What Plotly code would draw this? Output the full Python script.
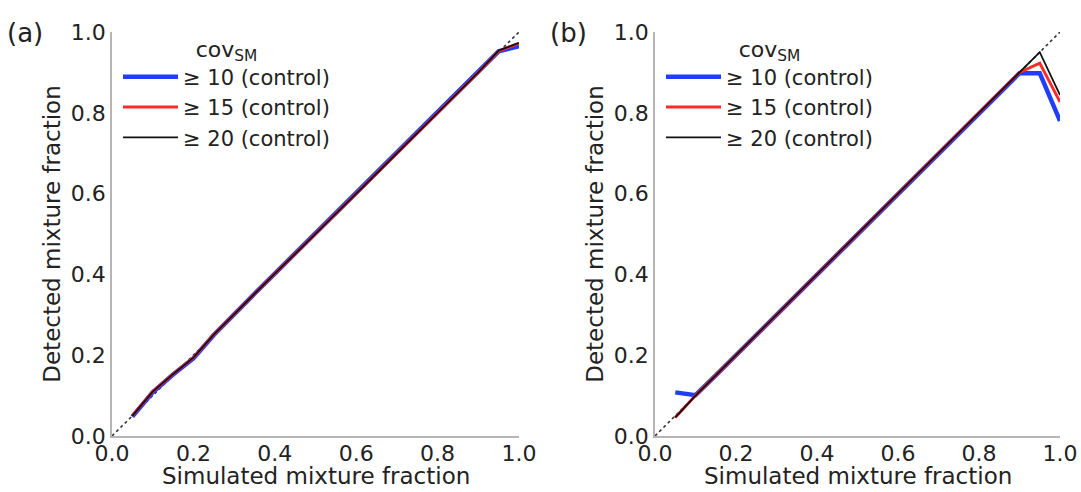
import plotly.graph_objects as go

# Simulated mixture fractions
sim_frac = [0.05, 0.10, 0.15, 0.20, 0.25, 0.30, 0.35, 0.40, 0.45, 0.50,
            0.55, 0.60, 0.65, 0.70, 0.75, 0.80, 0.85, 0.90, 0.95, 1.00]

# Panel (a): detected mixture fraction
a_cov10 = [0.048, 0.108, 0.152, 0.192, 0.250, 0.302, 0.352, 0.402, 0.452, 0.500,
           0.550, 0.600, 0.650, 0.700, 0.750, 0.800, 0.850, 0.900, 0.952, 0.965]
a_cov15 = [0.050, 0.110, 0.153, 0.194, 0.251, 0.302, 0.352, 0.402, 0.451, 0.500,
           0.550, 0.600, 0.650, 0.700, 0.751, 0.800, 0.850, 0.900, 0.953, 0.972]
a_cov20 = [0.050, 0.110, 0.153, 0.194, 0.251, 0.302, 0.352, 0.402, 0.451, 0.500,
           0.550, 0.600, 0.650, 0.700, 0.751, 0.800, 0.850, 0.900, 0.954, 0.973]

# Panel (b): detected mixture fraction
b_cov10 = [0.108, 0.101, 0.150, 0.200, 0.250, 0.300, 0.350, 0.400, 0.450, 0.500,
           0.550, 0.600, 0.650, 0.700, 0.750, 0.800, 0.850, 0.898, 0.898, 0.780]
b_cov15 = [0.046, 0.100, 0.150, 0.200, 0.250, 0.300, 0.350, 0.400, 0.450, 0.500,
           0.550, 0.600, 0.650, 0.700, 0.750, 0.800, 0.850, 0.900, 0.923, 0.827]
b_cov20 = [0.046, 0.100, 0.150, 0.200, 0.250, 0.300, 0.350, 0.400, 0.450, 0.500,
           0.550, 0.600, 0.650, 0.700, 0.750, 0.800, 0.850, 0.900, 0.950, 0.844]

diag = [0.0, 1.0]
tick_vals = [0.0, 0.2, 0.4, 0.6, 0.8, 1.0]
tick_text = ["0.0", "0.2", "0.4", "0.6", "0.8", "1.0"]
series_names = ["≥ 10 (control)", "≥ 15 (control)", "≥ 20 (control)"]
series_colors = ["#1f3dff", "#ff2a2a", "#111111"]
series_widths = [4.5, 3, 1.8]
x_title = "Simulated mixture fraction"
y_title = "Detected mixture fraction"

FONT = "DejaVu Sans"
W, H = 1081, 492

fig = go.Figure()

panels = [
    ("x", "y", "legend", [a_cov10, a_cov15, a_cov20]),
    ("x2", "y2", "legend2", [b_cov10, b_cov15, b_cov20]),
]
for xa, ya, lg, data in panels:
    fig.add_trace(go.Scatter(x=diag, y=diag, mode="lines", xaxis=xa, yaxis=ya,
                             line=dict(color="#333333", width=1.6, dash="dot"),
                             showlegend=False, hoverinfo="skip"))
    for name, vals, col, lw in zip(series_names, data, series_colors, series_widths):
        fig.add_trace(go.Scatter(x=sim_frac, y=vals, mode="lines", name=name,
                                 xaxis=xa, yaxis=ya, legend=lg,
                                 line=dict(color=col, width=lw)))

def px_x(p):
    return p / W

def px_y(p):
    return (H - p) / H

axis_common = dict(range=[0, 1], showgrid=False, zeroline=False, showline=True,
                   linecolor="#b5b5b5", linewidth=1.5, ticks="",
                   tickvals=tick_vals, ticktext=tick_text,
                   tickfont=dict(family=FONT, size=22, color="#222222"),
                   automargin=False, fixedrange=True)

legend_common = dict(xanchor="left", yanchor="top", bgcolor="rgba(0,0,0,0)",
                     itemwidth=55, tracegroupgap=0,
                     font=dict(family=FONT, size=21, color="#222222"),
                     title=dict(text="cov<sub>SM</sub>", side="top center",
                                font=dict(family=FONT, size=22)))

fig.update_layout(
    width=W, height=H,
    margin=dict(l=0, r=0, t=0, b=0),
    paper_bgcolor="white", plot_bgcolor="white",
    font=dict(family=FONT, color="#222222"),
    xaxis=dict(domain=[px_x(112), px_x(519)], anchor="y", ticklabelstandoff=-3,
               **axis_common),
    yaxis=dict(domain=[px_y(436), px_y(32)], anchor="x",
               title=dict(text=y_title, font=dict(size=23), standoff=4),
               **axis_common),
    xaxis2=dict(domain=[px_x(655), px_x(1060)], anchor="y2", ticklabelstandoff=-3,
                **axis_common),
    yaxis2=dict(domain=[px_y(436), px_y(32)], anchor="x2",
                title=dict(text=y_title, font=dict(size=23), standoff=4),
                **axis_common),
    legend=dict(x=px_x(118), y=px_y(28), **legend_common),
    legend2=dict(x=px_x(661), y=px_y(28), **legend_common),
    annotations=[
        dict(text="(a)", x=px_x(5), y=px_y(33), xref="paper", yref="paper",
             xanchor="left", yanchor="middle", showarrow=False,
             font=dict(family=FONT, size=26, color="#222222")),
        dict(text="(b)", x=px_x(548), y=px_y(33), xref="paper", yref="paper",
             xanchor="left", yanchor="middle", showarrow=False,
             font=dict(family=FONT, size=26, color="#222222")),
        dict(text=x_title, x=0.5, y=px_y(476), xref="x domain", yref="paper",
             xanchor="center", yanchor="middle", showarrow=False,
             font=dict(family=FONT, size=23, color="#222222")),
        dict(text=x_title, x=0.5, y=px_y(476), xref="x2 domain", yref="paper",
             xanchor="center", yanchor="middle", showarrow=False,
             font=dict(family=FONT, size=23, color="#222222")),
    ],
)

fig.write_html("out.html", config={"displayModeBar": False},
               post_script="document.body.style.margin='0';document.body.style.padding='0';")
